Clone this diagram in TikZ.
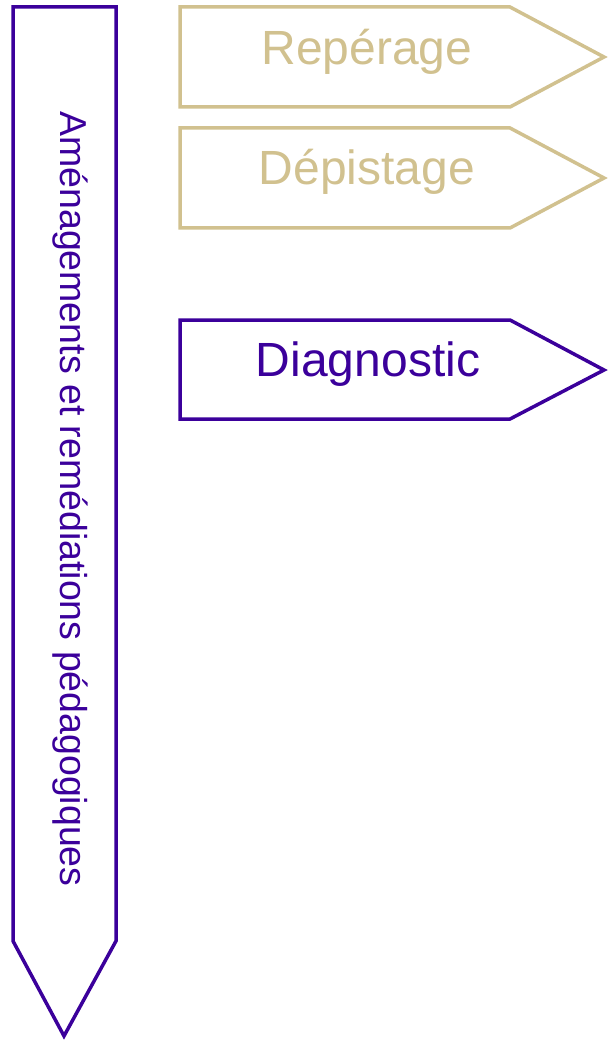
\documentclass[tikz,border=0pt]{standalone}
\usepackage{fontspec}
\setmainfont{Liberation Sans}
\usetikzlibrary{arrows.meta}

\definecolor{violet}{RGB}{59,0,155}
\definecolor{sable}{RGB}{209,193,143}

\begin{document}
\begin{tikzpicture}[x=1pt, y=-1pt, line width=3.5pt, line join=miter,
    every node/.style={inner sep=0pt},
    etape/.style={font=\fontsize{48}{58}\selectfont, anchor=base}]
    \useasboundingbox (0,0) rectangle (608,1040);

    % Fleche verticale (amenagements)
    \draw[violet] (13,7) -- (116,7) -- (116,941) -- (64,1036) -- (13,941) -- cycle;
    \node[violet, rotate=-90, anchor=base, font=\fontsize{37.5}{45}\selectfont] (amenag) at (60,499)
        {Aménagements et remédiations pédagogiques};

    % Reperage
    \draw[sable] (180,7) -- (510,7) -- (604,57) -- (510,107) -- (180,107) -- cycle;
    \node[etape, text=sable] (reperage) at (367,65) {Repérage};

    % Depistage
    \draw[sable] (180,128) -- (510,128) -- (604,178) -- (510,228) -- (180,228) -- cycle;
    \node[etape, text=sable] (depistage) at (367,185) {Dépistage};

    % Diagnostic
    \draw[violet] (180,320) -- (510,320) -- (604,370) -- (510,419) -- (180,419) -- cycle;
    \node[etape, text=violet] (diagnostic) at (368,376) {Diagnostic};
\end{tikzpicture}
\end{document}
